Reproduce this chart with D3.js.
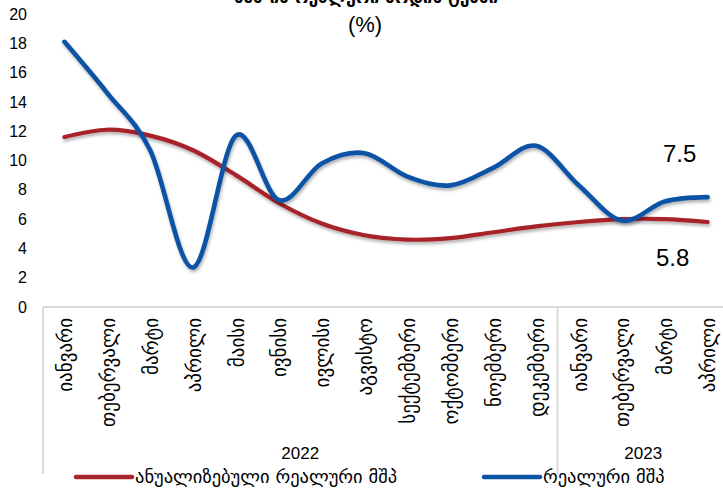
<!DOCTYPE html>
<html>
<head>
<meta charset="utf-8">
<script src="https://cdn.jsdelivr.net/npm/d3@7"></script>
<style>
  body { margin: 0; background: #fff; }
  text { fill: #000; }
</style>
</head>
<body>
<div id="chart-area"></div>
<script>
// months as they appear on the category axis
const months = ["იანვარი", "თებერვალი", "მარტი", "აპრილი", "მაისი", "ივნისი",
    "ივლისი", "აგვისტო", "სექტემბერი", "ოქტომბერი", "ნოემბერი", "დეკემბერი",
    "იანვარი", "თებერვალი", "მარტი", "აპრილი"];
const years = [{ label: "2022", from: 0, to: 11 }, { label: "2023", from: 12, to: 15 }];

// series (%)
const annualized = [11.6, 12.1, 11.7, 10.7, 9.0, 7.1, 5.7, 4.9, 4.6, 4.7, 5.1, 5.5, 5.8, 6.0, 6.0, 5.8];
const realGdp = [18.1, 14.6, 10.7, 2.7, 11.7, 7.3, 9.8, 10.5, 8.9, 8.3, 9.5, 11.0, 8.3, 5.9, 7.2, 7.5];

const yTicks = [0, 2, 4, 6, 8, 10, 12, 14, 16, 18, 20];

const W = 723, H = 492;
const geoFont = "'DejaVu Sans', sans-serif";
const numFont = "'Liberation Sans', Arial, sans-serif";

const svg = d3.select("#chart-area").append("svg")
    .attr("width", W)
    .attr("height", H);

// soft shadow under the lines
const defs = svg.append("defs");
defs.append("filter").attr("id", "shadow")
    .attr("x", "-10%").attr("y", "-10%").attr("width", "120%").attr("height", "130%")
    .append("feDropShadow")
    .attr("dx", 1).attr("dy", 2.5).attr("stdDeviation", 1.6)
    .attr("flood-color", "#000").attr("flood-opacity", 0.3);

const x = d3.scaleBand().domain(d3.range(months.length)).range([43, 729]);
const y = d3.scaleLinear().domain([0, 20]).range([307, 14]);
const cx = (i) => x(i) + x.bandwidth() / 2;

// title (cut at top of frame, as in the source)
svg.append("text")
    .attr("x", 366).attr("y", 3)
    .attr("text-anchor", "middle")
    .style("font-family", geoFont).style("font-weight", "bold").style("font-size", "17px")
    .text("მშპ-ის რეალური ზრდის ტემპი");
svg.append("text")
    .attr("x", 365).attr("y", 32)
    .attr("text-anchor", "middle")
    .style("font-family", numFont).style("font-size", "22px")
    .text("(%)");

// y axis, labels only
const yAxis = svg.append("g")
    .attr("transform", "translate(43,0)")
    .call(d3.axisLeft(y).tickValues(yTicks).tickSize(0).tickPadding(16));
yAxis.select(".domain").remove();
yAxis.selectAll("text")
    .style("font-family", numFont).style("font-size", "16px").attr("fill", "#000");

// category axis
svg.append("line")
    .attr("x1", x(0)).attr("x2", x(15) + x.bandwidth())
    .attr("y1", y(0)).attr("y2", y(0))
    .attr("stroke", "#d9d9d9").attr("stroke-width", 2);

[x(0), x(12), x(15) + x.bandwidth()].forEach((px) => {
    svg.append("line")
        .attr("x1", px).attr("x2", px)
        .attr("y1", y(0)).attr("y2", 474)
        .attr("stroke", "#d9d9d9").attr("stroke-width", 2);
});

const xAxis = svg.append("g")
    .attr("transform", "translate(0," + y(0) + ")")
    .call(d3.axisBottom(x).tickSize(0).tickFormat((i) => months[i]));
xAxis.select(".domain").remove();
xAxis.selectAll("text")
    .attr("transform", "rotate(-90)")
    .attr("x", -11).attr("y", 1).attr("dy", "0.35em")
    .style("text-anchor", "end")
    .style("font-family", geoFont).style("font-size", "19px").attr("fill", "#000");

svg.selectAll(".year")
    .data(years)
    .enter().append("text")
    .attr("class", "year")
    .attr("x", (d) => (x(d.from) + x(d.to) + x.bandwidth()) / 2)
    .attr("y", 459)
    .attr("text-anchor", "middle")
    .style("font-family", numFont).style("font-size", "17px")
    .text((d) => d.label);

// lines
const line = d3.line()
    .x((d, i) => cx(i))
    .y((d) => y(d))
    .curve(d3.curveCardinal.tension(0));

svg.append("path")
    .attr("d", line(annualized))
    .attr("fill", "none")
    .attr("stroke", "#A8232B")
    .attr("stroke-width", 4.2)
    .attr("stroke-linecap", "round")
    .attr("filter", "url(#shadow)");

svg.append("path")
    .attr("d", line(realGdp))
    .attr("fill", "none")
    .attr("stroke", "#0B53A5")
    .attr("stroke-width", 4.6)
    .attr("stroke-linecap", "round")
    .attr("filter", "url(#shadow)");

// last-point labels
const last = months.length - 1;
svg.append("text")
    .attr("x", cx(last) - 28).attr("y", y(realGdp[last]) - 35)
    .attr("text-anchor", "middle")
    .style("font-family", numFont).style("font-size", "24px")
    .text(realGdp[last].toFixed(1));
svg.append("text")
    .attr("x", cx(last) - 35).attr("y", y(annualized[last]) + 44)
    .attr("text-anchor", "middle")
    .style("font-family", numFont).style("font-size", "24px")
    .text(annualized[last].toFixed(1));

// legend
const legend = [
    { label: "ანუალიზებული რეალური მშპ", color: "#A8232B", x: 76 },
    { label: "რეალური მშპ", color: "#0B53A5", x: 484 }
];
const lg = svg.selectAll(".legend")
    .data(legend)
    .enter().append("g")
    .attr("class", "legend")
    .attr("transform", (d) => "translate(" + d.x + ",477)");
lg.append("line")
    .attr("x1", 0).attr("x2", 56)
    .attr("stroke", (d) => d.color)
    .attr("stroke-width", 4.5)
    .attr("stroke-linecap", "round");
lg.append("text")
    .attr("x", 59).attr("dy", "0.35em")
    .style("font-family", geoFont).style("font-size", "18.5px")
    .text((d) => d.label);
</script>
</body>
</html>
